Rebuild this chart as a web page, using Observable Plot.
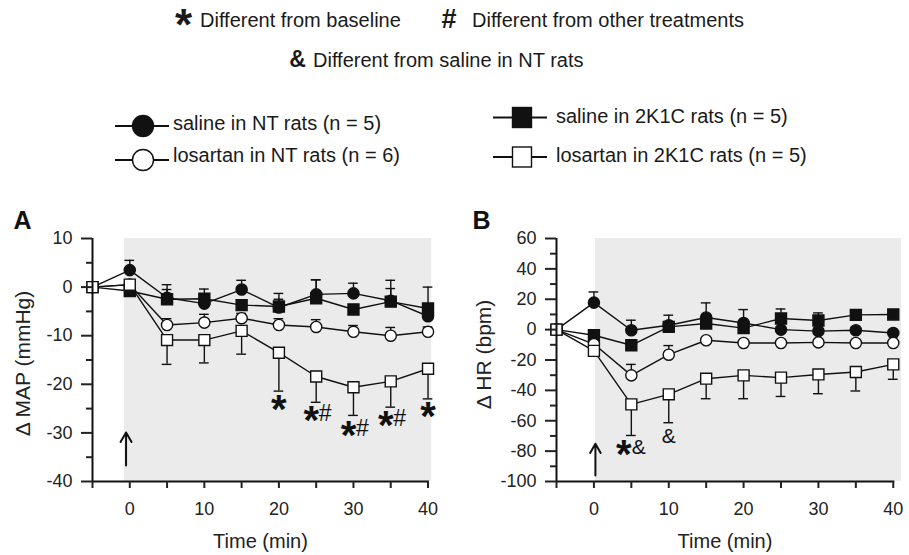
<!DOCTYPE html>
<html>
<head>
<meta charset="utf-8">
<script src="https://cdn.jsdelivr.net/npm/d3@7"></script>
<script src="https://cdn.jsdelivr.net/npm/@observablehq/plot@0.6"></script>
<style>
  body { margin: 0; background: #fff; }
  #root { position: relative; width: 909px; height: 555px; overflow: hidden; background: #fff;
          font-family: "Liberation Sans", Arial, Helvetica, sans-serif; }
  #legend { position: absolute; left: 0; top: 0; }
  #panelA { position: absolute; left: 0; top: 190px; }
  #panelB { position: absolute; left: 455px; top: 190px; }
</style>
</head>
<body>
<div id="root">
  <svg id="legend" width="909" height="190"></svg>
  <div id="panelA"></div>
  <div id="panelB"></div>
</div>
<script>
// ---------------- DATA ----------------
const time = [-5, 0, 5, 10, 15, 20, 25, 30, 35, 40];
const seriesNames = [
  "saline in NT rats (n = 5)",
  "losartan in NT rats (n = 6)",
  "saline in 2K1C rats (n = 5)",
  "losartan in 2K1C rats (n = 5)"
];
const legendNotes = ["Different from baseline", "Different from other treatments", "Different from saline in NT rats"];
const legendNoteSymbols = ["*", "#", "&"];

// Panel A: Δ MAP (mmHg), mean and SEM
const mapSalineNT       = [0, 3.5, -2.2, -3.4, -0.5, -4.2, -1.5, -1.3, -2.8, -6.0];
const mapSalineNTSem    = [0, 2.0, 2.7, 3.0, 1.9, 2.9, 3.0, 2.1, 4.2, 1.0];
const mapLosartanNT     = [0, 0.5, -7.8, -7.3, -6.4, -7.8, -8.2, -9.2, -10.0, -9.2];
const mapLosartanNTSem  = [0, 0.5, 1.3, 1.7, 1.0, 1.3, 1.5, 1.3, 1.7, 1.0];
const mapSaline2K1C     = [0, -0.8, -2.5, -2.4, -3.7, -4.0, -2.3, -4.6, -3.0, -4.4];
const mapSaline2K1CSem  = [0, 0.5, 2.0, 1.0, 1.0, 1.5, 3.8, 1.0, 2.7, 4.4];
const mapLosartan2K1C   = [0, 0.5, -10.9, -10.9, -9.0, -13.5, -18.4, -20.6, -19.4, -16.8];
const mapLosartan2K1CSem= [0, 0.5, 5.0, 4.7, 4.8, 7.9, 5.3, 5.8, 5.3, 6.2];

// Panel B: Δ HR (bpm), mean and SEM
const hrSalineNT        = [0, 17.8, -0.4, 2.9, 8.0, 4.4, 0.0, -1.0, -0.4, -2.2];
const hrSalineNTSem     = [0, 7.0, 6.6, 6.6, 9.6, 8.8, 2.0, 2.0, 2.0, 2.0];
const hrLosartanNT      = [0, -9.5, -30.1, -16.5, -7.0, -8.8, -8.8, -8.4, -8.8, -8.8];
const hrLosartanNTSem   = [0, 1.0, 7.2, 6.0, 1.0, 1.0, 1.0, 1.0, 1.0, 1.0];
const hrSaline2K1C      = [0, -3.7, -10.3, 1.8, 4.0, 1.0, 7.3, 6.0, 9.7, 10.0];
const hrSaline2K1CSem   = [0, 1.0, 1.0, 2.0, 2.0, 2.0, 6.3, 5.0, 1.0, 1.0];
const hrLosartan2K1C    = [0, -14.0, -49.2, -42.6, -32.3, -30.1, -31.6, -29.5, -27.9, -22.9];
const hrLosartan2K1CSem = [0, 1.0, 20.5, 18.7, 13.2, 15.4, 12.4, 12.7, 12.5, 9.8];

// Axis ticks
const xTicks = [-5, 0, 5, 10, 15, 20, 25, 30, 35, 40];
const xLabelTicks = [0, 10, 20, 30, 40];
const yMajorA = [-40, -30, -20, -10, 0, 10];
const yMinorA = [-35, -25, -15, -5, 5];
const yMajorB = [-100, -80, -60, -40, -20, 0, 20, 40, 60];
const yMinorB = [-90, -70, -50, -30, -10, 10, 30, 50];

// Significance marks (time, label, y in data units)
const annotATime  = [20, 25, 30, 35, 40];
const annotALabel = ["*", "*#", "*#", "*#", "*"];
const annotAY     = [-24.0, -26.2, -29.4, -27.3, -25.4];
const annotBTime  = [5, 10];
const annotBLabel = ["*&", "&"];
const annotBY     = [-78, -70.3];

// Injection arrow (time, y start, y end) and infusion shading (time range)
const arrowA = {t: -0.5, from: -36.7, to: -29.9};
const arrowB = {t: 0.2, from: -96, to: -75.2};
const shadeA = [-0.7, 40.5];
const shadeB = [0.2, 41.1];

// ---------------- DRAWING ----------------
const FONT = '"Liberation Sans", Arial, Helvetica, sans-serif';
const INK = "#111";

function rows(name, values, sems, dir) {
  return time.map((t, i) => ({series: name, t, v: values[i], sem: sems[i], e: values[i] + dir * sems[i]}));
}

function panel(cfg) {
  const series = cfg.series.map(s => ({...s, rows: rows(s.name, s.values, s.sems, s.dir)}));
  const all = series.flatMap(s => s.rows);
  const bars = all.filter(d => d.sem > 0);
  const ann = cfg.annTime.map((t, i) => ({t, y: cfg.annY[i], label: cfg.annLabel[i]}));
  const starSolo = ann.filter(d => d.label === "*");
  const starPair = ann.filter(d => d.label.length > 1 && d.label[0] === "*");
  const secondPair = ann.filter(d => d.label.length > 1).map(d => ({...d, ch: d.label[1]}));
  const soloOther = ann.filter(d => d.label.length === 1 && d.label !== "*");
  const xd = cfg.xDomain, yd = cfg.yDomain;
  const cap = 0.65;
  const marks = [
    Plot.rect([cfg.shade], {x1: d => d[0], x2: d => d[1], y1: yd[0], y2: yd[1], fill: "#ebebeb"}),
    Plot.line(all, {x: "t", y: "v", z: "series", stroke: INK, strokeWidth: 1.4}),
    Plot.ruleX(bars, {x: "t", y1: "v", y2: "e", stroke: INK, strokeWidth: 1.4}),
    Plot.ruleY(bars, {y: "e", x1: d => d.t - cap, x2: d => d.t + cap, stroke: INK, strokeWidth: 1.4}),
    ...series.map(s => Plot.dot(s.rows, {
      x: "t", y: "v", symbol: s.symbol, r: s.symbol === "square" ? 6.2 : 5.6,
      fill: s.filled ? INK : "white", stroke: INK, strokeWidth: 1.4
    })),
    Plot.ruleX([xd[0]], {y1: yd[0], y2: yd[1], stroke: INK, strokeWidth: 2}),
    Plot.ruleY([yd[0]], {x1: xd[0], x2: 40.2, stroke: INK, strokeWidth: 2}),
    Plot.axisX({ticks: xTicks, tickSize: 7, tickPadding: 14, strokeWidth: 2, fontSize: 18,
      tickFormat: d => xLabelTicks.includes(d) ? String(d) : "", label: null}),
    Plot.axisY({ticks: cfg.yMajor, tickSize: 11, tickPadding: 9, strokeWidth: 2, fontSize: 18,
      tickFormat: d => String(d), label: null}),
    Plot.axisY({ticks: cfg.yMinor, tickSize: 6, strokeWidth: 2, tickFormat: () => "", label: null}),
    Plot.text(starSolo, {x: "t", y: "y", text: () => "*", fontSize: 40, fontWeight: "bold", fill: INK, dy: 6.6}),
    Plot.text(starPair, {x: "t", y: "y", text: () => "*", fontSize: 40, fontWeight: "bold", fill: INK, dy: 6.6, dx: cfg.pairStarDx}),
    Plot.text(secondPair, {x: "t", y: "y", text: "ch", fontSize: cfg.pairFontSize, fill: INK, dx: cfg.pairSecondDx, dy: -1}),
    Plot.text(soloOther, {x: "t", y: "y", text: "label", fontSize: cfg.pairFontSize, fill: INK}),
    Plot.arrow([cfg.arrow], {x1: "t", x2: "t", y1: "from", y2: "to", stroke: INK, strokeWidth: 2, headLength: 9, headAngle: 60}),
    Plot.text([cfg.letter], {frameAnchor: "top-left", text: d => d, fontSize: 25, fontWeight: "bold",
      textAnchor: "start", lineAnchor: "middle", dx: cfg.letterDx, dy: -18, fill: INK}),
    Plot.text([cfg.yTitle], {frameAnchor: "left", text: d => d, rotate: -90, fontSize: 21,
      textAnchor: "middle", lineAnchor: "middle", dx: cfg.yTitleDx, dy: cfg.yTitleDy, fill: "#222"}),
    Plot.text(["Time (min)"], {frameAnchor: "bottom", text: d => d, fontSize: 20,
      textAnchor: "middle", lineAnchor: "middle", dy: 60, dx: cfg.xTitleDx, fill: "#222"})
  ];
  return Plot.plot({
    width: cfg.width, height: 365,
    marginLeft: cfg.marginLeft, marginRight: cfg.marginRight, marginTop: 48, marginBottom: 74,
    x: {domain: xd}, y: {domain: yd},
    style: {fontFamily: FONT, fontSize: "18px", color: "#222", background: "transparent", overflow: "visible"},
    marks
  });
}

function seriesDefs(v) {
  return [
    {name: seriesNames[2], values: v[2], sems: v[3], dir: 1, symbol: "square", filled: true},
    {name: seriesNames[0], values: v[0], sems: v[1], dir: 1, symbol: "circle", filled: true},
    {name: seriesNames[1], values: v[4], sems: v[5], dir: 1, symbol: "circle", filled: false},
    {name: seriesNames[3], values: v[6], sems: v[7], dir: -1, symbol: "square", filled: false}
  ];
}

document.getElementById("panelA").append(panel({
  width: 450, marginLeft: 92, marginRight: 18,
  xDomain: [-5, 40.6], yDomain: [-40, 10], yMajor: yMajorA, yMinor: yMinorA, shade: shadeA,
  series: seriesDefs([mapSalineNT, mapSalineNTSem, mapSaline2K1C, mapSaline2K1CSem,
                      mapLosartanNT, mapLosartanNTSem, mapLosartan2K1C, mapLosartan2K1CSem]),
  annTime: annotATime, annLabel: annotALabel, annY: annotAY,
  pairStarDx: -5, pairSecondDx: 9, pairFontSize: 23,
  arrow: arrowA, letter: "A", letterDx: -79,
  yTitle: "Δ MAP (mmHg)", yTitleDx: -69.5, yTitleDy: 3.5, xTitleDx: -2
}));

document.getElementById("panelB").append(panel({
  width: 454, marginLeft: 101, marginRight: 8,
  xDomain: [-5, 41.1], yDomain: [-100, 60], yMajor: yMajorB, yMinor: yMinorB, shade: shadeB,
  series: seriesDefs([hrSalineNT, hrSalineNTSem, hrSaline2K1C, hrSaline2K1CSem,
                      hrLosartanNT, hrLosartanNTSem, hrLosartan2K1C, hrLosartan2K1CSem]),
  annTime: annotBTime, annLabel: annotBLabel, annY: annotBY,
  pairStarDx: -7.5, pairSecondDx: 7.5, pairFontSize: 21,
  arrow: arrowB, letter: "B", letterDx: -84,
  yTitle: "Δ HR (bpm)", yTitleDx: -72, yTitleDy: -5.5, xTitleDx: -4
}));

// ---------------- LEGEND (above the panels) ----------------
const lg = d3.select("#legend").style("font-family", FONT);
function txt(x, y, s, size, weight, anchor) {
  lg.append("text").attr("x", x).attr("y", y).attr("font-size", size)
    .attr("font-weight", weight || "normal").attr("text-anchor", anchor || "start")
    .attr("fill", "#1a1a1a").text(s);
}
txt(183.5, 40.3, legendNoteSymbols[0], 44, "bold", "middle");
txt(200, 27, legendNotes[0], 20);
txt(449, 28, legendNoteSymbols[1], 27, "bold", "middle");
txt(472, 27, legendNotes[1], 20);
txt(297.5, 67, legendNoteSymbols[2], 23, "bold", "middle");
txt(313, 67, legendNotes[2], 20);

const legendItems = [
  {label: seriesNames[0], symbol: "circle", filled: true,  x: 115, cy: 126, tx: 173, ty: 130},
  {label: seriesNames[1], symbol: "circle", filled: false, x: 115, cy: 160, tx: 173, ty: 162},
  {label: seriesNames[2], symbol: "square", filled: true,  x: 493, cy: 117.5, tx: 556, ty: 123},
  {label: seriesNames[3], symbol: "square", filled: false, x: 493, cy: 157, tx: 556, ty: 162}
];
legendItems.forEach(it => {
  const cx = it.symbol === "circle" ? it.x + 28 : it.x + 29;
  lg.append("line").attr("x1", it.x).attr("x2", it.x + 54).attr("y1", it.cy).attr("y2", it.cy)
    .attr("stroke", INK).attr("stroke-width", 2);
  if (it.symbol === "circle") {
    lg.append("circle").attr("cx", cx).attr("cy", it.cy).attr("r", 10.5)
      .attr("fill", it.filled ? INK : "white").attr("stroke", INK).attr("stroke-width", 1.4);
  } else {
    lg.append("rect").attr("x", cx - 9.5).attr("y", it.cy - 10).attr("width", 19).attr("height", 20)
      .attr("fill", it.filled ? INK : "white").attr("stroke", INK).attr("stroke-width", 1.4);
  }
  txt(it.tx, it.ty, it.label, 20);
});
</script>
</body>
</html>
